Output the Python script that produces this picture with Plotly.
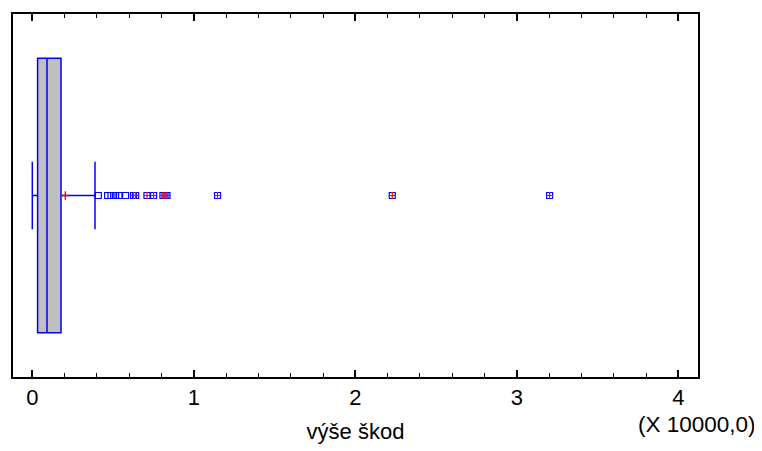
import plotly.graph_objects as go

# Box-and-whisker summary (výše škod)
q1 = [328]
median = [910]
q3 = [1777]
lower_fence = [0]
upper_fence = [3882]
mean_value = [2043]

# outside points (beyond 1.5 IQR)
outside_points = [4087, 4663, 4873, 5034, 5158, 5368, 5777]
# far outside points (beyond 3 IQR)
far_points = [6270, 6400, 7100, 7510, 8090, 8220, 8340, 11470, 22290, 32030]

tick_values = [0, 10000, 20000, 30000, 40000]
tick_labels = ["0", "1", "2", "3", "4"]

BLUE = "#0000ff"
RED = "#ff0000"
FONT = "Liberation Sans, Arial, sans-serif"

fig = go.Figure()

fig.add_trace(go.Box(
    y=[0], q1=q1, median=median, q3=q3,
    lowerfence=lower_fence, upperfence=upper_fence,
    orientation="h", width=0.756, whiskerwidth=0.246,
    fillcolor="#c0c0c0", line=dict(color=BLUE, width=1.5),
    boxpoints=False, hoverinfo="skip", showlegend=False,
))

fig.add_trace(go.Scatter(
    x=mean_value, y=[0] * len(mean_value), mode="markers",
    marker=dict(symbol="cross-thin", size=6, line=dict(color=RED, width=1.3)),
    showlegend=False, hoverinfo="skip",
))

all_out = outside_points + far_points
fig.add_trace(go.Scatter(
    x=all_out, y=[0] * len(all_out), mode="markers",
    marker=dict(symbol="square-open", size=6, color=BLUE, line=dict(color=BLUE, width=1.2)),
    showlegend=False, hoverinfo="skip",
))
fig.add_trace(go.Scatter(
    x=far_points, y=[0] * len(far_points), mode="markers",
    marker=dict(symbol="cross-thin", size=5, line=dict(color=RED, width=1.2)),
    showlegend=False, hoverinfo="skip",
))

fig.update_layout(
    width=754, height=443,
    margin=dict(l=5, r=64, t=4, b=74),
    plot_bgcolor="white", paper_bgcolor="white",
    font=dict(family=FONT, size=22, color="black"),
    xaxis=dict(
        range=[-1195, 41220], tickvals=tick_values, ticktext=tick_labels,
        ticks="inside", ticklen=7, tickwidth=1.5, tickcolor="black",
        minor=dict(dtick=2000, ticks="inside", ticklen=4, tickwidth=1, tickcolor="black"),
        showline=True, linecolor="black", linewidth=1.5, mirror="ticks",
        showgrid=False, zeroline=False,
        tickfont=dict(family=FONT, size=22),
        title=dict(text="výše škod", font=dict(family=FONT, size=22), standoff=14),
    ),
    yaxis=dict(
        range=[-0.5, 0.5], showticklabels=False, ticks="",
        showline=True, linecolor="black", linewidth=1.5, mirror=True,
        showgrid=False, zeroline=False,
    ),
)

fig.add_annotation(
    text="(X 10000,0)", xref="paper", yref="paper",
    x=0.91, y=-0.131, xanchor="left", yanchor="middle",
    showarrow=False, font=dict(family=FONT, size=22.5),
)

fig.write_html("out.html")
